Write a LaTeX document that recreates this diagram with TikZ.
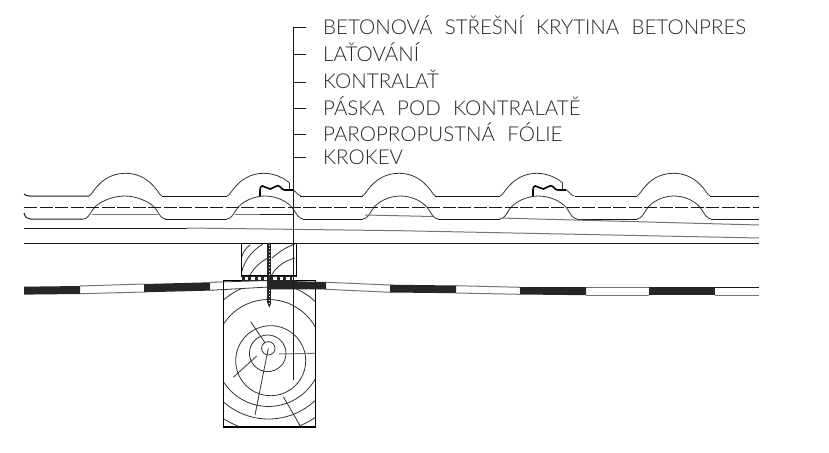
\documentclass[tikz,border=0pt]{standalone}
\usepackage{fontspec}
\setmainfont[UprightFont={* Light},WordSpace=2.2]{Lato}
\usetikzlibrary{arrows}
\tikzset{
  leadertext/.style={anchor=base west,inner sep=0pt,font=\fontsize{20.5}{24}\selectfont,text=black!85},
  tileline/.style={line width=0.8pt,black!80},
  flatline/.style={line width=1pt,black!90},
  fadeline/.style={line width=1pt,black!55},
  timber/.style={line width=1.1pt,black},
  grain/.style={line width=0.8pt,black!80},
  foilblack/.style={fill=black!85,draw=none},
  screwbody/.style={line width=4pt,black!85}
}
\begin{document}
\begin{tikzpicture}[x=1pt,y=-1pt]
  \useasboundingbox (0,0) rectangle (829,452);

  % tile, upper surface
  \draw[flatline] (24,194) .. controls (25,195.5) and (27,196) .. (30,196) -- (89,196);
  \draw[flatline] (162,196) -- (227,196);
  \draw[flatline] (300,196) -- (363,196);
  \draw[flatline] (435,196) -- (500,196);
  \draw[flatline] (575,196) -- (637,196);
  \draw[flatline] (710,196) -- (759,196);
  \foreach \hx in {125.5,399,673.5}
    \draw[tileline] ({\hx-36.5},196) .. controls ({\hx-34},195) and ({\hx-32},190) .. ({\hx-28},186)
      .. controls ({\hx-20},177) and ({\hx-10},173.3) .. (\hx,173.3)
      .. controls ({\hx+10},173.3) and ({\hx+20},177) .. ({\hx+28},186)
      .. controls ({\hx+32},190) and ({\hx+34},195) .. ({\hx+36.5},196);
  \foreach \hx in {264,537} {
    \draw[tileline] ({\hx-37},196) .. controls ({\hx-34},195) and ({\hx-32},190) .. ({\hx-28},186)
      .. controls ({\hx-20},177) and ({\hx-10},173.3) .. (\hx,173.3)
      .. controls ({\hx+9},173.3) and ({\hx+19},177) .. ({\hx+25.5},183) -- ({\hx+25.5},190);
    \draw[tileline] ({\hx+29},190) .. controls ({\hx+32},191) and ({\hx+33},195) .. ({\hx+37},196);
    \draw[line width=1.6pt,black] ({\hx-4},196.7) -- ({\hx-4},190) .. controls ({\hx-4},187) and ({\hx-3},186) .. ({\hx-1.5},186)
      .. controls ({\hx+1},186) and ({\hx+3},189) .. ({\hx+6.5},189)
      .. controls ({\hx+9},189) and ({\hx+10},185.7) .. ({\hx+13.5},185.7)
      .. controls ({\hx+17},185.7) and ({\hx+17},190) .. ({\hx+21},190) -- ({\hx+29},190);
  }

  % tile, lower surface
  \draw[flatline] (24,213) .. controls (25,217) and (27,219) .. (30,219) -- (83,219);
  \draw[flatline] (165,219) -- (227,219);
  \draw[flatline] (303,219) -- (363,219);
  \draw[flatline] (438,219) -- (500,219);
  \draw[flatline] (577,219) -- (637,219);
  \draw[flatline] (711,219) -- (759,219);
  \foreach \hx/\hw in {124.5/41,265/38,400.5/37.5,538.5/38.5,674/37}
    \draw[tileline] ({\hx-\hw},219) .. controls ({\hx-\hw+4},218.5) and ({\hx-\hw+6},215) .. ({\hx-\hw+9},210)
      .. controls ({\hx-\hw+14},202) and ({\hx-12},196) .. (\hx,196)
      .. controls ({\hx+12},196) and ({\hx+\hw-14},202) .. ({\hx+\hw-9},210)
      .. controls ({\hx+\hw-6},215) and ({\hx+\hw-4},218.5) .. ({\hx+\hw},219);

  % long lines
  \draw[flatline,dash pattern=on 13pt off 2.5pt] (24,207.5) -- (759,207.5);
  \draw[fadeline] (92,214) -- (158,214);
  \draw[fadeline] (235,214) -- (260,214);
  \draw[flatline] (260,214) -- (293,214);
  \draw[fadeline] (365,215) -- (433,216.5);
  \draw[fadeline] (500,218) -- (759,225);
  \draw[flatline] (24,228) -- (187,228);
  \draw[fadeline] (187,228) -- (400,230.7) -- (759,238);
  \draw[flatline] (24,243.3) -- (759,243.3);

  % rafter
  \begin{scope}
    \clip (223.3,288.5) rectangle (315.3,427);
    \draw[grain] (268.3,348.3) circle (6.7);
    \draw[grain] (267.7,353.3) circle (18.3);
    \draw[grain] (270.7,360.7) circle (35);
    \draw[grain] (268.5,353) circle (53.5);
    \draw[grain] (268.5,351) circle (68);
    \draw[grain] (268.5,350) circle (82);
  \end{scope}
  \draw[grain] (250.7,321.7) -- (265,342.7);
  \draw[grain] (256.7,356) -- (233.3,377.3);
  \draw[grain] (268.3,348.3) -- (255,415);
  \draw[fadeline] (279,354) -- (315,353.3);
  \draw[grain] (283.3,396.7) -- (300.7,426.7);
  \draw[timber] (223.3,280.5) rectangle (315.3,427);

  % counter batten
  \draw[grain] (241.7,257) .. controls (243,252) and (246,248) .. (250,245);
  \draw[grain] (241.7,271.7) .. controls (245,259) and (253,250) .. (263,244);
  \draw[grain] (250,275) .. controls (254,268) and (260,262) .. (268,258);
  \draw[grain] (272,258) .. controls (279,252) and (286,247) .. (295,244);
  \draw[grain] (271.7,275) .. controls (276,267) and (284,261) .. (295,258);
  \draw[timber] (241.7,243.3) rectangle (296.3,276);

  % tape
  \fill[black!85] (241.7,275.5) rectangle (296.3,281);
  \foreach \sx in {244.5,251,257.5,264,273,279.5,286,292}
    \fill[white] (\sx,276.8) rectangle ({\sx+3.5},280);

  % foil
  \fill[foilblack] (24,286.7) -- (80,286) -- (80,294) -- (24,294.6) -- cycle;
  \fill[foilblack] (144,284) -- (210,282.3) -- (210,290.6) -- (144,292.3) -- cycle;
  \fill[foilblack] (269,280.5) -- (326,282) -- (326,289.5) -- (269,289.3) -- cycle;
  \fill[foilblack] (390,284.7) -- (456,285.5) -- (456,293.2) -- (390,292.5) -- cycle;
  \fill[foilblack] (520,287) -- (586,287) -- (586,295.2) -- (520,294.5) -- cycle;
  \fill[foilblack] (649,287) -- (715,287) -- (715,295.2) -- (649,295.2) -- cycle;
  \draw[fadeline] (80,286) -- (144,284);
  \draw[fadeline] (80,293.7) -- (144,292);
  \draw[grain] (210,282.3) -- (269,280.5);
  \draw[grain] (210,290.3) -- (269,287);
  \draw[fadeline] (326,282.3) -- (390,285);
  \draw[fadeline] (326,289.3) -- (390,292.3);
  \draw[fadeline] (456,285.7) -- (520,287.3);
  \draw[fadeline] (456,293) -- (520,294.3);
  \draw[fadeline] (586,287) -- (649,287);
  \draw[fadeline] (586,295) -- (649,295);
  \draw[flatline] (715,287) -- (759,287);
  \draw[fadeline] (715,295) -- (759,295);

  % screw
  \draw[screwbody] (269.3,243.3) -- (269.3,303);
  \fill[black!85] (267.3,303) -- (269.3,307.5) -- (271.3,303) -- cycle;
  \draw[white,line width=1pt,dash pattern=on 1pt off 2.2pt] (269.3,245) -- (269.3,276);
  \draw[white,line width=1pt,dash pattern=on 1pt off 2.2pt] (269.3,290) -- (269.3,303);

  % leader with its labels
  \draw (323,35)  node (cover)   [leadertext] {BETONOVÁ STŘEŠNÍ KRYTINA BETONPRES};
  \draw (323,62)  node (batten)  [leadertext] {LAŤOVÁNÍ};
  \draw (323,88)  node (counter) [leadertext] {KONTRALAŤ};
  \draw (323,115) node (tape)    [leadertext] {PÁSKA POD KONTRALATĚ};
  \draw (323,141) node (foil)    [leadertext] {PAROPROPUSTNÁ FÓLIE};
  \draw (323,164) node (rafter)  [leadertext] {KROKEV};

  \coordinate (leadtop) at (293.5,28);
  \coordinate (leadend) at (293.5,380);
  \coordinate (tick1) at (306,28);
  \coordinate (base2) at (293.5,55);
  \coordinate (tick2) at (306,55);
  \coordinate (base3) at (293.5,82);
  \coordinate (tick3) at (306,82);
  \coordinate (base4) at (293.5,108);
  \coordinate (tick4) at (306,108);
  \coordinate (base5) at (293.5,134);
  \coordinate (tick5) at (306,134);
  \coordinate (base6) at (293.5,157);
  \coordinate (tick6) at (306,157);
  \draw[flatline] (tick1) -- (leadtop) -- (leadend);
  \draw[flatline] (base2) -- (tick2);
  \draw[flatline] (base3) -- (tick3);
  \draw[flatline] (base4) -- (tick4);
  \draw[flatline] (base5) -- (tick5);
  \draw[flatline] (base6) -- (tick6);
\end{tikzpicture}
\end{document}
